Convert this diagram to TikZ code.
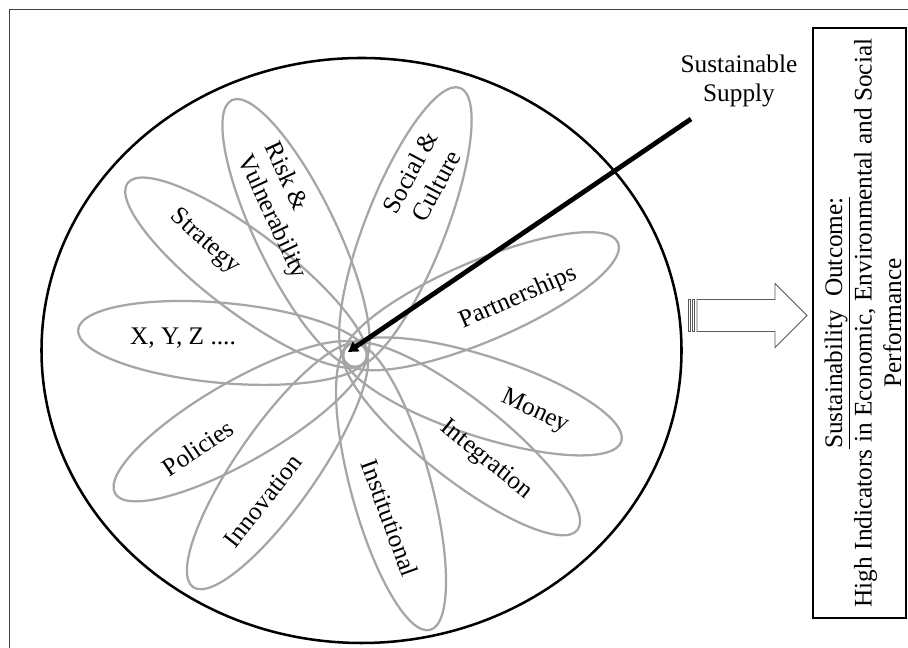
\documentclass[tikz,border=0pt]{standalone}
\usepackage{fontspec}
\setmainfont{Liberation Serif}
\usetikzlibrary{arrows.meta}

\begin{document}
\begin{tikzpicture}[x=0.025cm, y=0.025cm]
  \tikzset{petal/.style={draw=black!35, line width=1.6pt},
           lab/.style={font=\fontsize{18}{21}\selectfont, inner sep=0pt},
           block/.style={draw=black!65, line width=0.6pt, fill=white}}
  \useasboundingbox (0,0) rectangle (908,648);
  \draw[black!75, line width=1.2pt] (908,638.5) -- (9.5,638.5) -- (9.5,0);
  \draw[line width=1.8pt] (361.5,297.5) ellipse [x radius=320, y radius=292.5];
  \coordinate (hub) at (355,293);
  \foreach \ang/\len in {174.8/278, 142.9/285, 115.8/283, 68.5/287, 23.1/286,
                         -18/280, -38.2/283, -74.7/285, 235.1/283, 210/277}
    \draw[petal, shift={(hub)}, rotate=\ang] ({(\len-12)/2},0)
      ellipse [x radius={(\len+12)/2}, y radius=40];
  \node[lab] (xyz) at (183,310) {X, Y, Z ....};
  \node[lab, rotate=-42] (strategy) at (205,406) {Strategy};
  \node[lab, rotate=-65, align=left] (risk) at (285,437) {Risk \&\\Vulnerability};
  \node[lab, rotate=62, align=center] (social) at (423,469) {Social \&\\Culture};
  \node[lab, rotate=23.5] (partner) at (518,350) {Partnerships};
  \node[lab, rotate=-25] (money) at (535,236) {Money};
  \node[lab, rotate=-39] (integr) at (486,188) {Integration};
  \node[lab, rotate=-70] (instit) at (390,130) {Institutional};
  \node[lab, rotate=52] (innov) at (263,147) {Innovation};
  \node[lab, rotate=34] (policy) at (198,200) {Policies};
  \node[lab, align=center] (supply) at (739,567) {Sustainable\\Supply};
  \coordinate (lead) at (691,529);
  \coordinate (hubtip) at (348,296);
  \draw[line width=3.4pt, -{Triangle[length=7pt,width=8pt]}] (lead) -- (hubtip);
  \coordinate (tail) at (688,332.5);
  \draw[block] (tail) ++(0,-16) rectangle ++(2,32);
  \draw[block] (692,316.5) rectangle (694,348.5);
  \draw[block] (697,316.5) -- (775,316.5) -- (775,300.5) -- (807,332.5)
    -- (775,364.5) -- (775,348.5) -- (697,348.5) -- cycle;
  \node[draw, line width=1.8pt, minimum width=2.325cm, minimum height=14.75cm,
        inner sep=0pt] (outcome) at (859.5,325) {};
  \node[lab, rotate=90, align=center] (outtext) at (863,325)
    {\underline{Sustainability~~Outcome:}\\High Indicators in Economic, Environmental and Social\\Performance};
\end{tikzpicture}
\end{document}
